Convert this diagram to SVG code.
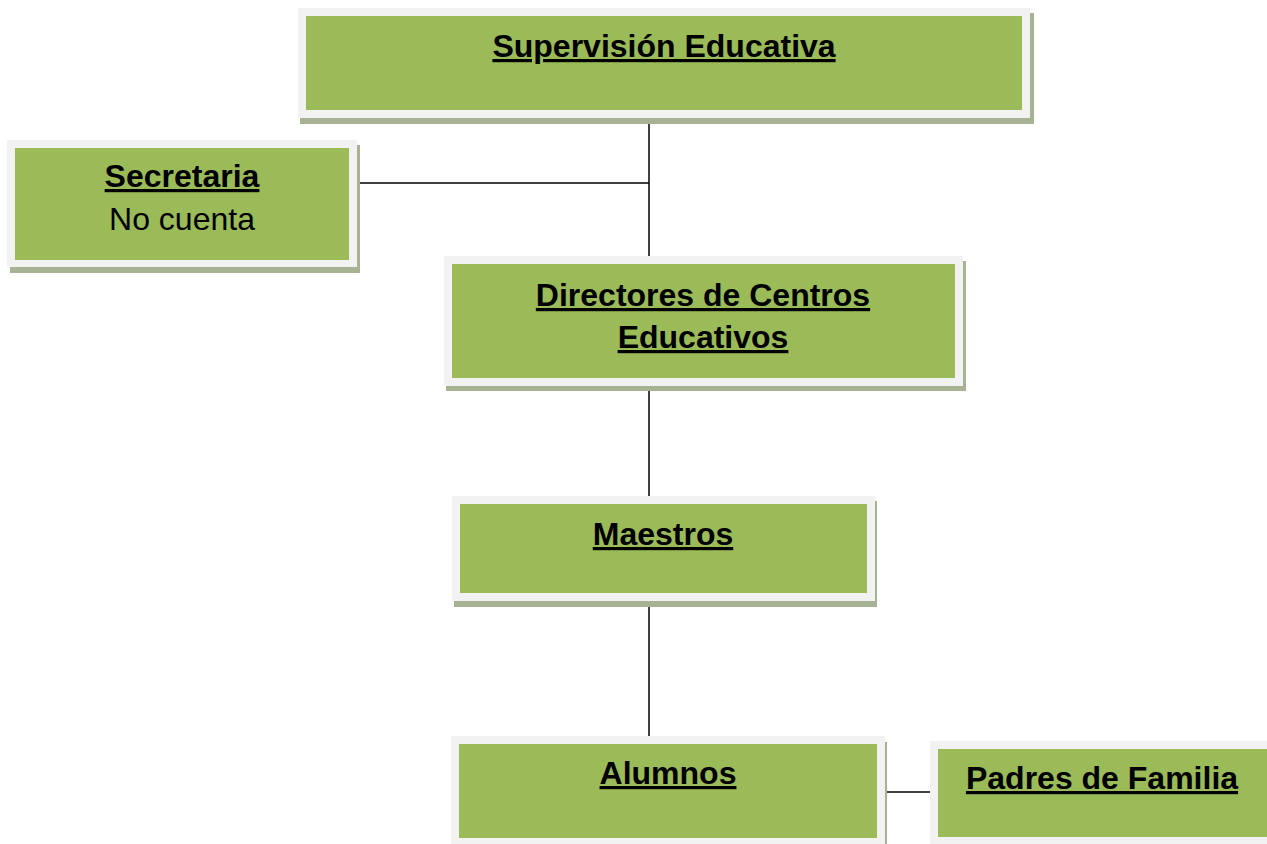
<svg xmlns="http://www.w3.org/2000/svg" width="1267" height="844" viewBox="0 0 1267 844">
<style>
.shadow{fill:#a7b194}
.outer{fill:#f2f2f2}
.inner{fill:#9bbb59}
.conn{stroke:#000;stroke-width:1.5;fill:none}
.t{font-family:"Liberation Sans",Arial,sans-serif;font-size:32px;fill:#000;text-anchor:middle}
.b{font-weight:bold;text-decoration:underline;text-decoration-thickness:3.5px}
</style>
<rect width="1267" height="844" fill="#fff"/>
<g id="connectors">
<line class="conn" x1="649" y1="118" x2="649" y2="256"/>
<line class="conn" x1="357" y1="183" x2="649" y2="183"/>
<line class="conn" x1="649" y1="386" x2="649" y2="496"/>
<line class="conn" x1="649" y1="601" x2="649" y2="736"/>
<line class="conn" x1="885" y1="792" x2="930" y2="792"/>
</g>
<g id="supervision">
<rect class="shadow" x="300" y="13" width="734" height="111"/>
<rect class="outer" x="298" y="8" width="732" height="110"/>
<rect class="inner" x="306" y="16" width="716" height="94"/>
<text class="t b" x="664" y="57">Supervisión Educativa</text>
</g>
<g id="secretaria">
<rect class="shadow" x="10" y="145" width="350" height="128"/>
<rect class="outer" x="7" y="140" width="350" height="127"/>
<rect class="inner" x="15" y="148" width="334" height="112"/>
<text class="t b" x="182" y="187">Secretaria</text>
<text class="t" x="182" y="230">No cuenta</text>
</g>
<g id="directores">
<rect class="shadow" x="446" y="261" width="520" height="130"/>
<rect class="outer" x="444" y="256" width="519" height="130"/>
<rect class="inner" x="452" y="264" width="503" height="114"/>
<text class="t b" x="703" y="306">Directores de Centros</text>
<text class="t b" x="703" y="348">Educativos</text>
</g>
<g id="maestros">
<rect class="shadow" x="454" y="501" width="423" height="106"/>
<rect class="outer" x="452" y="496" width="423" height="105"/>
<rect class="inner" x="460" y="504" width="407" height="89"/>
<text class="t b" x="663" y="545">Maestros</text>
</g>
<g id="alumnos">
<rect class="shadow" x="453" y="742" width="434" height="110"/>
<rect class="outer" x="451" y="736" width="434" height="110"/>
<rect class="inner" x="459" y="744" width="418" height="94"/>
<text class="t b" x="668" y="784">Alumnos</text>
</g>
<g id="padres">
<rect class="outer" x="930" y="741" width="345" height="110"/>
<rect class="inner" x="938" y="749" width="335" height="88"/>
<text class="t b" x="1102" y="789">Padres de Familia</text>
</g>
</svg>
